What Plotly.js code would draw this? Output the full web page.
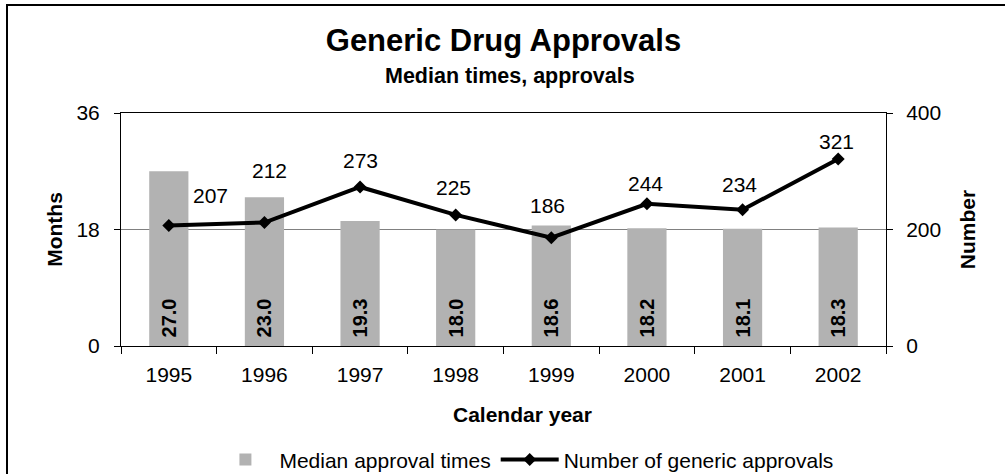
<!DOCTYPE html>
<html>
<head>
<meta charset="utf-8">
<script src="https://cdn.plot.ly/plotly-3.0.1.min.js"></script>
<style>
  html, body { margin: 0; padding: 0; background: #ffffff; }
  #chart { position: absolute; left: 0; top: 0; width: 1005px; height: 474px; }
  #frame {
    position: absolute; left: 6px; top: 4px; width: 1010px; height: 480px;
    border-left: 2px solid #000; border-top: 2px solid #000;
    pointer-events: none; box-sizing: border-box;
  }
</style>
</head>
<body>
<div id="chart"></div>
<div id="frame"></div>
<script>
// Calendar years on the category axis
const years = ['1995', '1996', '1997', '1998', '1999', '2000', '2001', '2002'];
// Median approval time, months (left axis)
const medianMonths = [27.0, 23.0, 19.3, 18.0, 18.6, 18.2, 18.1, 18.3];
// Number of generic approvals (right axis)
const approvals = [207, 212, 273, 225, 186, 244, 234, 321];
// Axis tick values
const monthTicks = [0, 18, 36];
const numberTicks = [0, 200, 400];

// Pixel nudges for the approval count labels, relative to each point
const labelDx = [42, 5, 0, -2, -4, -1, -3, -2];
const labelDy = [30, 52, 26, 27, 32, 20, 25, 18];

const FONT = 'Liberation Sans, Arial, sans-serif';

const bars = {
  type: 'bar',
  name: 'Median approval times',
  x: years,
  y: medianMonths,
  xaxis: 'x',
  yaxis: 'y',
  marker: { color: '#b2b2b2', line: { width: 0 } },
  // leading no-break space lifts the value a little off the bar base
  texttemplate: '\u00a0%{y:.1f}',
  textposition: 'inside',
  insidetextanchor: 'start',
  textangle: -90,
  constraintext: 'none',
  textfont: { family: FONT, size: 20, color: '#000000', weight: 'bold' }
};

const line = {
  type: 'scatter',
  mode: 'lines+markers',
  name: 'Number of generic approvals',
  x: years,
  y: approvals,
  xaxis: 'x',
  yaxis: 'y2',
  line: { color: '#000000', width: 4 },
  marker: { symbol: 'diamond', size: 10, color: '#000000' },
  cliponaxis: false
};

// Count labels sit on the category index of each year
const countLabels = years.map((yr, i) => ({
  x: i,
  y: approvals[i],
  xref: 'x',
  yref: 'y2',
  text: String(approvals[i]),
  showarrow: false,
  xanchor: 'center',
  yanchor: 'middle',
  xshift: labelDx[i],
  yshift: labelDy[i],
  font: { family: FONT, size: 21, color: '#000000' }
}));

const layout = {
  width: 1005,
  height: 474,
  margin: { l: 121, r: 119, t: 113, b: 128, autoexpand: false },
  paper_bgcolor: '#ffffff',
  plot_bgcolor: '#ffffff',
  font: { family: FONT, size: 21, color: '#000000' },
  bargap: 0.59,
  showlegend: true,
  title: {
    text: 'Generic Drug Approvals',
    font: { family: FONT, size: 31, color: '#000000', weight: 'bold' },
    x: 0.5, xref: 'paper', xanchor: 'center',
    y: 1 - 40 / 474, yref: 'container', yanchor: 'middle'
  },
  xaxis: {
    type: 'category',
    categoryorder: 'array',
    categoryarray: years,
    range: [-0.5, years.length - 0.5],
    tickson: 'boundaries',
    ticks: 'outside',
    ticklen: 7,
    tickwidth: 1,
    tickcolor: '#000000',
    showline: true,
    linecolor: '#000000',
    linewidth: 1,
    mirror: true,
    showgrid: false,
    tickangle: 0,
    automargin: false,
    tickfont: { family: FONT, size: 21, color: '#000000' },
    ticklabelstandoff: 10
  },
  yaxis: {
    range: [0, 36],
    tickvals: monthTicks,
    ticktext: monthTicks.map(String),
    ticks: 'outside',
    ticklen: 6,
    tickcolor: '#000000',
    showline: true,
    linecolor: '#000000',
    linewidth: 1,
    showgrid: true,
    gridcolor: '#808080',
    gridwidth: 1,
    zeroline: false,
    automargin: false,
    tickfont: { family: FONT, size: 21, color: '#000000' },
    ticklabelstandoff: 10,
    title: {
      text: 'Months',
      font: { family: FONT, size: 21, color: '#000000', weight: 'bold' },
      standoff: 8
    }
  },
  yaxis2: {
    overlaying: 'y',
    side: 'right',
    range: [0, 400],
    tickvals: numberTicks,
    ticktext: numberTicks.map(String),
    ticks: 'outside',
    ticklen: 6,
    tickcolor: '#000000',
    showline: true,
    linecolor: '#000000',
    linewidth: 1,
    showgrid: false,
    zeroline: false,
    automargin: false,
    tickfont: { family: FONT, size: 21, color: '#000000' },
    ticklabelstandoff: 9,
    title: {
      text: 'Number',
      font: { family: FONT, size: 21, color: '#000000', weight: 'bold' },
      standoff: 20
    }
  },
  legend: {
    orientation: 'h',
    x: 0.528,
    xanchor: 'center',
    y: -0.489,
    yanchor: 'middle',
    font: { family: FONT, size: 21, color: '#000000' },
    bgcolor: 'rgba(0,0,0,0)',
    itemwidth: 58
  },
  annotations: countLabels.concat([
    {
      text: 'Median times, approvals',
      xref: 'paper', yref: 'paper',
      x: 0.508, y: (346 - 76) / 233,
      xanchor: 'center', yanchor: 'middle',
      showarrow: false,
      font: { family: FONT, size: 21.5, color: '#000000', weight: 'bold' }
    },
    {
      text: 'Calendar year',
      xref: 'paper', yref: 'paper',
      x: (522 - 121) / 765, y: (346 - 414) / 233,
      xanchor: 'center', yanchor: 'middle',
      showarrow: false,
      font: { family: FONT, size: 21, color: '#000000', weight: 'bold' }
    }
  ])
};

Plotly.newPlot('chart', [bars, line], layout, { displayModeBar: false, staticPlot: true });
</script>
</body>
</html>
